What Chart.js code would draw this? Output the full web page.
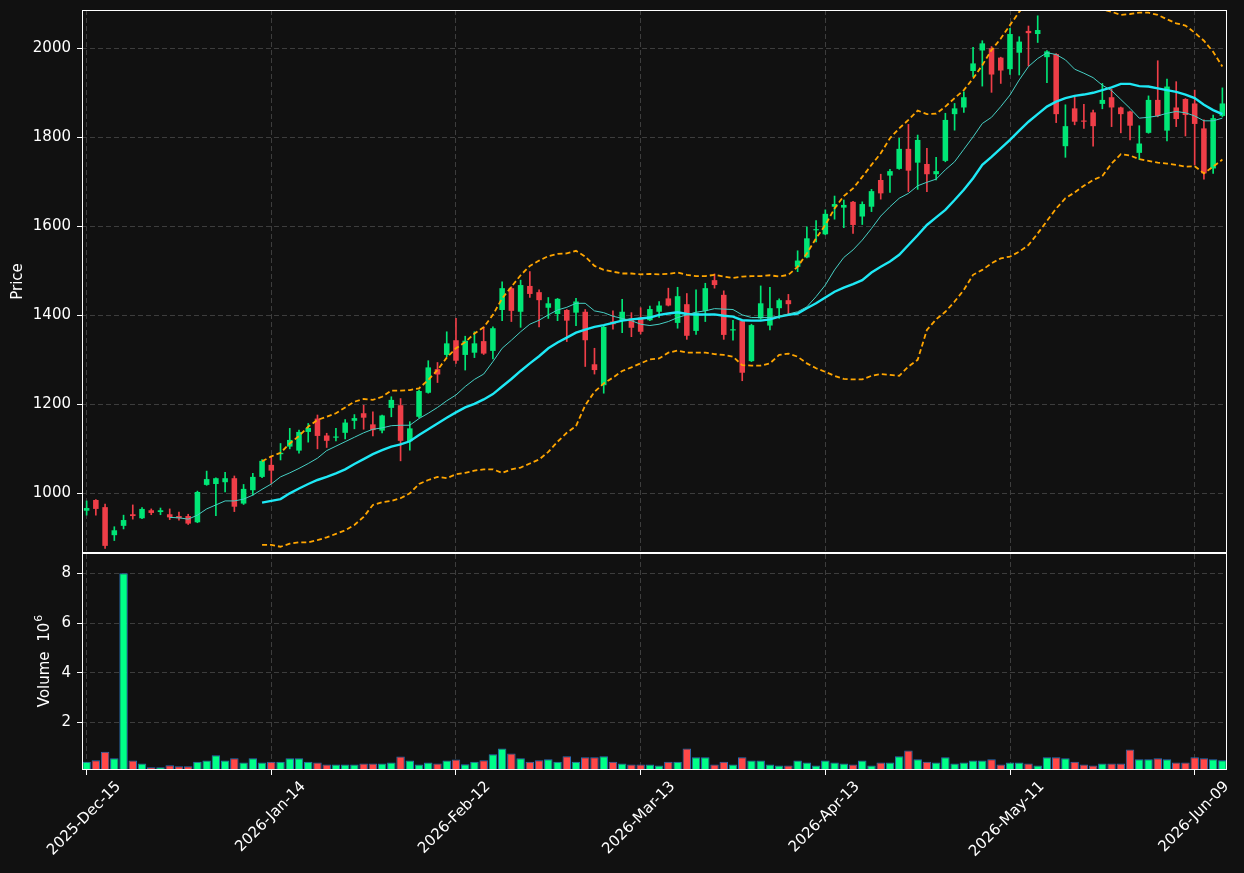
<!DOCTYPE html>
<html>
<head>
<meta charset="utf-8">
<script src="https://cdn.jsdelivr.net/npm/chart.js@4.4.1/dist/chart.umd.min.js"></script>
<style>
html,body{margin:0;padding:0;background:#111111;}
#wrap{width:1244px;height:873px;position:relative;}
</style>
</head>
<body>
<div id="wrap"><canvas id="c" width="1244" height="873"></canvas></div>
<script>
const dates = [
'2025-Dec-15','2025-Dec-16','2025-Dec-17','2025-Dec-18','2025-Dec-19','2025-Dec-22','2025-Dec-23','2025-Dec-24','2025-Dec-26','2025-Dec-29','2025-Dec-30','2025-Dec-31',
'2026-Jan-02','2026-Jan-05','2026-Jan-06','2026-Jan-07','2026-Jan-08','2026-Jan-09','2026-Jan-12','2026-Jan-13','2026-Jan-14','2026-Jan-15','2026-Jan-16','2026-Jan-20','2026-Jan-21','2026-Jan-22','2026-Jan-23','2026-Jan-26','2026-Jan-27','2026-Jan-28','2026-Jan-29','2026-Jan-30',
'2026-Feb-02','2026-Feb-03','2026-Feb-04','2026-Feb-05','2026-Feb-06','2026-Feb-09','2026-Feb-10','2026-Feb-11','2026-Feb-12','2026-Feb-13','2026-Feb-17','2026-Feb-18','2026-Feb-19','2026-Feb-20','2026-Feb-23','2026-Feb-24','2026-Feb-25','2026-Feb-26','2026-Feb-27',
'2026-Mar-02','2026-Mar-03','2026-Mar-04','2026-Mar-05','2026-Mar-06','2026-Mar-09','2026-Mar-10','2026-Mar-11','2026-Mar-12','2026-Mar-13','2026-Mar-16','2026-Mar-17','2026-Mar-18','2026-Mar-19','2026-Mar-20','2026-Mar-23','2026-Mar-24','2026-Mar-25','2026-Mar-26','2026-Mar-27','2026-Mar-30','2026-Mar-31',
'2026-Apr-01','2026-Apr-02','2026-Apr-06','2026-Apr-07','2026-Apr-08','2026-Apr-09','2026-Apr-10','2026-Apr-13','2026-Apr-14','2026-Apr-15','2026-Apr-16','2026-Apr-17','2026-Apr-20','2026-Apr-21','2026-Apr-22','2026-Apr-23','2026-Apr-24','2026-Apr-27','2026-Apr-28','2026-Apr-29','2026-Apr-30',
'2026-May-01','2026-May-04','2026-May-05','2026-May-06','2026-May-07','2026-May-08','2026-May-11','2026-May-12','2026-May-13','2026-May-14','2026-May-15','2026-May-18','2026-May-19','2026-May-20','2026-May-21','2026-May-22','2026-May-26','2026-May-27','2026-May-28','2026-May-29',
'2026-Jun-01','2026-Jun-02','2026-Jun-03','2026-Jun-04','2026-Jun-05','2026-Jun-08','2026-Jun-09','2026-Jun-10','2026-Jun-11','2026-Jun-12'
];
const tickLabels = ['2025-Dec-15','2026-Jan-14','2026-Feb-12','2026-Mar-13','2026-Apr-13','2026-May-11','2026-Jun-09'];
const priceTicks = [1000,1200,1400,1600,1800,2000];
const volumeTicks = [2,4,6,8];
const priceLabel = 'Price';
const volumeLabel = 'Volume  10';
const volumeExponent = '6';

const open = [
961,985,969,906,927,953,944,962,958,953,
949,949,935,1019,1021,1025,1034,977,1007,1037,
1064,1088,1105,1096,1138,1168,1130,1125,1136,1163,
1180,1155,1141,1192,1198,1117,1172,1226,1279,1311,
1344,1311,1316,1342,1320,1412,1461,1408,1466,1452,
1417,1403,1412,1406,1408,1290,1243,1386,1389,1393,
1395,1389,1408,1438,1383,1425,1365,1410,1479,1446,
1366,1387,1297,1393,1377,1416,1434,1509,1530,1591,
1582,1644,1642,1655,1622,1644,1704,1714,1729,1774,
1743,1740,1717,1747,1852,1867,1949,1995,2000,1979,
1953,1990,2039,2032,1980,1987,1780,1865,1837,1856,
1875,1890,1867,1858,1765,1810,1884,1815,1867,1886,
1876,1820,1730,1848];
const high = [
983,986,976,925,951,974,968,965,967,965,
958,953,1005,1050,1035,1047,1039,1020,1045,1076,
1082,1112,1146,1142,1157,1176,1135,1146,1166,1177,
1198,1183,1176,1217,1213,1161,1232,1298,1294,1363,
1393,1353,1363,1374,1374,1475,1464,1479,1498,1457,
1440,1438,1413,1438,1413,1326,1376,1410,1436,1406,
1417,1421,1431,1461,1463,1449,1457,1472,1493,1455,
1389,1388,1380,1466,1463,1437,1447,1545,1599,1613,
1637,1668,1659,1656,1655,1683,1717,1728,1798,1829,
1805,1775,1755,1854,1876,1902,2002,2017,2004,1980,
2045,2026,2050,2073,1995,1988,1873,1890,1874,1861,
1921,1908,1868,1859,1826,1893,1972,1931,1925,1887,
1906,1839,1850,1911];
const low = [
951,951,876,894,920,942,943,952,952,941,
940,930,934,1018,950,1003,959,975,996,1035,
1022,1075,1100,1090,1115,1100,1103,1118,1122,1145,
1144,1129,1136,1172,1073,1097,1170,1225,1249,1307,
1292,1277,1305,1312,1302,1388,1386,1373,1440,1374,
1393,1388,1341,1377,1285,1268,1225,1369,1361,1352,
1358,1388,1395,1421,1371,1346,1357,1386,1461,1346,
1344,1253,1296,1391,1367,1393,1403,1498,1529,1565,
1581,1616,1597,1584,1604,1633,1661,1676,1728,1678,
1683,1678,1704,1745,1816,1856,1936,1915,1901,1921,
1941,1940,1960,2013,1923,1833,1755,1828,1820,1780,
1864,1824,1810,1794,1750,1809,1846,1792,1824,1803,
1738,1706,1719,1846];
const close = [
967,965,882,917,940,949,965,956,962,946,
944,932,1003,1032,1034,1034,970,1010,1037,1073,
1051,1091,1120,1138,1147,1129,1118,1127,1159,1169,
1170,1142,1175,1210,1118,1146,1230,1283,1267,1337,
1298,1343,1337,1314,1371,1461,1410,1468,1448,1434,
1427,1437,1388,1431,1344,1277,1374,1380,1408,1372,
1363,1414,1422,1422,1443,1354,1406,1461,1468,1356,
1368,1271,1378,1427,1416,1434,1425,1523,1573,1593,
1628,1650,1648,1603,1650,1679,1674,1724,1774,1725,
1794,1717,1724,1839,1865,1890,1966,2011,1941,1950,
2032,2015,2034,2041,1993,1852,1825,1835,1835,1825,
1884,1867,1852,1826,1786,1884,1848,1914,1841,1850,
1830,1719,1843,1876];
// volume in millions
const volume = [
0.41,0.47,0.82,0.55,8.0,0.46,0.34,0.19,0.19,0.27,
0.23,0.23,0.41,0.46,0.67,0.46,0.55,0.38,0.55,0.38,
0.41,0.41,0.55,0.55,0.41,0.38,0.30,0.30,0.30,0.30,
0.34,0.34,0.34,0.38,0.62,0.46,0.30,0.38,0.34,0.46,
0.50,0.31,0.41,0.47,0.71,0.95,0.74,0.55,0.41,0.47,
0.51,0.41,0.63,0.41,0.59,0.59,0.63,0.41,0.34,0.30,
0.30,0.30,0.26,0.41,0.41,0.95,0.59,0.59,0.30,0.41,
0.30,0.59,0.46,0.46,0.30,0.26,0.26,0.46,0.38,0.26,
0.46,0.38,0.34,0.30,0.46,0.26,0.38,0.38,0.63,0.87,
0.51,0.41,0.38,0.59,0.34,0.38,0.46,0.46,0.51,0.30,
0.38,0.38,0.34,0.26,0.59,0.59,0.55,0.41,0.30,0.26,
0.34,0.34,0.34,0.91,0.51,0.51,0.55,0.51,0.38,0.38,
0.59,0.55,0.51,0.47];

// moving average (10), starting at index 9
const ma10Start = 9;
const ma10 = [
946,945,942,951,965,974,983,983,987,996,1009,
1021,1037,1046,1056,1067,1079,1096,1106,1116,1126,
1136,1144,1147,1152,1153,1153,1168,1180,1193,1208,
1221,1240,1256,1268,1296,1326,1344,1363,1380,1389,
1401,1412,1418,1427,1427,1410,1406,1398,1393,1388,
1380,1377,1380,1386,1395,1401,1407,1410,1415,1414,
1413,1401,1395,1395,1395,1398,1403,1408,1419,1442,
1468,1502,1530,1547,1569,1595,1623,1644,1663,1674,
1691,1699,1706,1727,1745,1773,1801,1831,1845,1869,
1895,1929,1959,1977,1990,1986,1974,1953,1944,1934,
1917,1905,1885,1865,1843,1845,1848,1854,1858,1855,
1848,1837,1837,1843];
// moving average (20) and bands, starting at index 19
const ma20Start = 19;
const ma20 = [
979,
983,987,1000,1011,1021,1030,1037,1045,1054,1066,
1077,1088,1097,1105,1110,1117,1131,1144,1157,1170,
1182,1193,1201,1211,1223,1240,1257,1275,1292,1308,
1326,1339,1350,1361,1368,1374,1378,1383,1388,1391,
1393,1395,1401,1404,1407,1403,1402,1402,1402,1399,
1397,1389,1388,1388,1391,1397,1401,1404,1416,1427,
1440,1453,1462,1470,1479,1496,1509,1521,1536,1558,
1580,1603,1620,1637,1659,1682,1708,1738,1756,1775,
1794,1815,1835,1852,1869,1880,1888,1893,1896,1900,
1906,1912,1920,1920,1915,1914,1910,1906,1902,1896,
1888,1873,1861,1852];
const bbUpper = [
1072,
1083,1091,1112,1129,1150,1165,1172,1180,1193,1206,
1212,1210,1217,1231,1231,1232,1236,1255,1277,1305,
1326,1340,1359,1373,1401,1438,1464,1490,1511,1523,
1533,1538,1539,1545,1532,1511,1502,1498,1494,1494,
1492,1493,1492,1493,1496,1491,1488,1488,1491,1487,
1484,1487,1488,1488,1490,1487,1491,1509,1539,1573,
1603,1640,1668,1685,1711,1738,1764,1798,1820,1839,
1860,1852,1853,1869,1888,1906,1932,1962,1996,2022,
2052,2082,2105,2115,2120,2118,2112,2105,2098,2092,
2087,2082,2075,2077,2080,2080,2075,2065,2056,2051,
2035,2017,1992,1959];
const bbLower = [
884,
884,880,887,890,890,895,901,909,917,929,
947,974,980,983,989,1000,1021,1030,1037,1034,
1043,1046,1051,1054,1054,1046,1054,1058,1067,1076,
1093,1116,1136,1151,1198,1228,1247,1260,1275,1283,
1292,1301,1303,1316,1321,1316,1316,1316,1313,1311,
1307,1288,1287,1287,1292,1311,1314,1307,1292,1281,
1273,1264,1257,1256,1256,1264,1268,1266,1264,1285,
1300,1367,1391,1408,1431,1457,1491,1502,1517,1528,
1532,1543,1558,1584,1612,1640,1663,1676,1691,1704,
1713,1741,1762,1759,1751,1747,1743,1741,1738,1734,
1735,1719,1734,1750];

const UP = '#00e676', DOWN = '#ef3e48';
const VUP = '#00ff88', VDOWN = '#ff4848';
const FONT = 'DejaVu Sans';
const GRID = '#3d3d3d';

const pad = (start, arr) => new Array(start).fill(null).concat(arr);
const isUp = open.map((o, i) => close[i] >= o);
const candleColors = isUp.map(u => u ? UP : DOWN);
const volColors = isUp.map(u => u ? VUP : VDOWN);
const isTick = i => tickLabels.includes(dates[i]);
const noPad = s => { s.paddingTop = 0; s.paddingBottom = 0; s.paddingLeft = 0; s.paddingRight = 0; };

const bgPlugin = {
  id: 'bg',
  beforeDraw(chart) {
    const c = chart.ctx;
    c.save(); c.fillStyle = '#111111'; c.fillRect(0, 0, chart.width, chart.height); c.restore();
  }
};
const framePlugin = {
  id: 'frames',
  afterDraw(chart) {
    const c = chart.ctx, x = chart.scales.x;
    c.save();
    c.strokeStyle = '#ffffff'; c.lineWidth = 1;
    ['y', 'yv'].forEach(id => {
      const s = chart.scales[id];
      const l = Math.round(x.left) + 0.5, r = Math.round(x.right) - 0.5;
      const t = Math.round(s.top) + 0.5, b = Math.round(s.bottom) - 0.5;
      c.strokeRect(l, t, r - l, b - t);
    });
    // volume axis label with exponent
    const sv = chart.scales.yv;
    const cy = (sv.top + sv.bottom) / 2;
    c.translate(45, cy);
    c.rotate(-Math.PI / 2);
    c.fillStyle = '#ffffff';
    c.textBaseline = 'middle';
    c.textAlign = 'left';
    c.font = '15px "' + FONT + '"';
    const w1 = c.measureText(volumeLabel).width;
    c.font = '11px "' + FONT + '"';
    const w2 = c.measureText(volumeExponent).width;
    const x0 = -(w1 + w2) / 2;
    c.font = '15px "' + FONT + '"';
    c.fillText(volumeLabel, x0, 0);
    c.font = '11px "' + FONT + '"';
    c.fillText(volumeExponent, x0 + w1 + 1, -6);
    c.restore();
  }
};

new Chart(document.getElementById('c'), {
  data: {
    labels: dates,
    datasets: [
      { type: 'line', label: 'MA10', data: pad(ma10Start, ma10), yAxisID: 'y', borderColor: '#46cfc4', borderWidth: 1, pointRadius: 0, tension: 0, order: 0 },
      { type: 'line', label: 'MA20', data: pad(ma20Start, ma20), yAxisID: 'y', borderColor: '#1ee8f5', borderWidth: 2.4, pointRadius: 0, tension: 0, order: 0 },
      { type: 'line', label: 'BB upper', data: pad(ma20Start, bbUpper), yAxisID: 'y', borderColor: '#ffa500', borderWidth: 1.8, borderDash: [5, 3], pointRadius: 0, tension: 0, order: 0 },
      { type: 'line', label: 'BB lower', data: pad(ma20Start, bbLower), yAxisID: 'y', borderColor: '#ffa500', borderWidth: 1.8, borderDash: [5, 3], pointRadius: 0, tension: 0, order: 0 },
      { type: 'bar', label: 'body', data: open.map((o, i) => [o, close[i]]), yAxisID: 'y', backgroundColor: candleColors, borderWidth: 0, barPercentage: 0.6, categoryPercentage: 1, grouped: false, minBarLength: 1.2, order: 1 },
      { type: 'bar', label: 'wick', data: low.map((l, i) => [l, high[i]]), yAxisID: 'y', backgroundColor: candleColors, borderWidth: 0, barThickness: 1, grouped: false, order: 2 },
      { type: 'bar', label: 'Volume', data: volume, yAxisID: 'yv', backgroundColor: volColors, borderColor: '#2a6db5', borderWidth: 1, borderSkipped: 'start', barPercentage: 0.92, categoryPercentage: 1, grouped: false, order: 3 }
    ]
  },
  options: {
    responsive: false,
    animation: false,
    devicePixelRatio: 1,
    layout: { padding: { left: 0, right: 17, top: 10, bottom: 0 } },
    plugins: { legend: { display: false }, tooltip: { enabled: false } },
    scales: {
      x: {
        type: 'category',
        offset: true,
        grid: {
          offset: false,
          color: c => isTick(c.index) ? GRID : 'rgba(0,0,0,0)',
          tickColor: c => isTick(c.index) ? '#ffffff' : 'rgba(0,0,0,0)',
          tickLength: 5,
          lineWidth: 1
        },
        border: { display: false, dash: [5, 3] },
        ticks: {
          autoSkip: false, maxRotation: 45, minRotation: 45,
          color: '#ffffff', font: { family: FONT, size: 15 },
          padding: 3, labelOffset: 32,
          callback: (v, i) => isTick(i) ? dates[i] : ''
        },
        afterFit: s => { s.height = 103; noPad(s); }
      },
      yv: {
        type: 'linear', position: 'left', stack: 'panels', stackWeight: 1,
        min: 0.08, max: 8.82,
        afterBuildTicks: s => { s.ticks = volumeTicks.map(v => ({ value: v })); },
        ticks: { color: '#ffffff', font: { family: FONT, size: 15 }, padding: 6, callback: v => String(v) },
        grid: { color: GRID, tickColor: '#ffffff', tickLength: 5 },
        border: { display: false, dash: [5, 3] },
        title: { display: false },
        afterFit: s => { s.width = 82; noPad(s); }
      },
      y: {
        type: 'linear', position: 'left', stack: 'panels', stackWeight: 2.502,
        min: 866, max: 2086,
        afterBuildTicks: s => { s.ticks = priceTicks.map(v => ({ value: v })); },
        ticks: { color: '#ffffff', font: { family: FONT, size: 15 }, padding: 6, callback: v => String(v) },
        grid: { color: GRID, tickColor: '#ffffff', tickLength: 5 },
        border: { display: false, dash: [5, 3] },
        title: { display: true, text: priceLabel, color: '#ffffff', font: { family: FONT, size: 15 }, padding: { top: 9, bottom: 0 } },
        afterFit: s => { s.width = 82; noPad(s); }
      }
    }
  },
  plugins: [bgPlugin, framePlugin]
});
</script>
</body>
</html>
